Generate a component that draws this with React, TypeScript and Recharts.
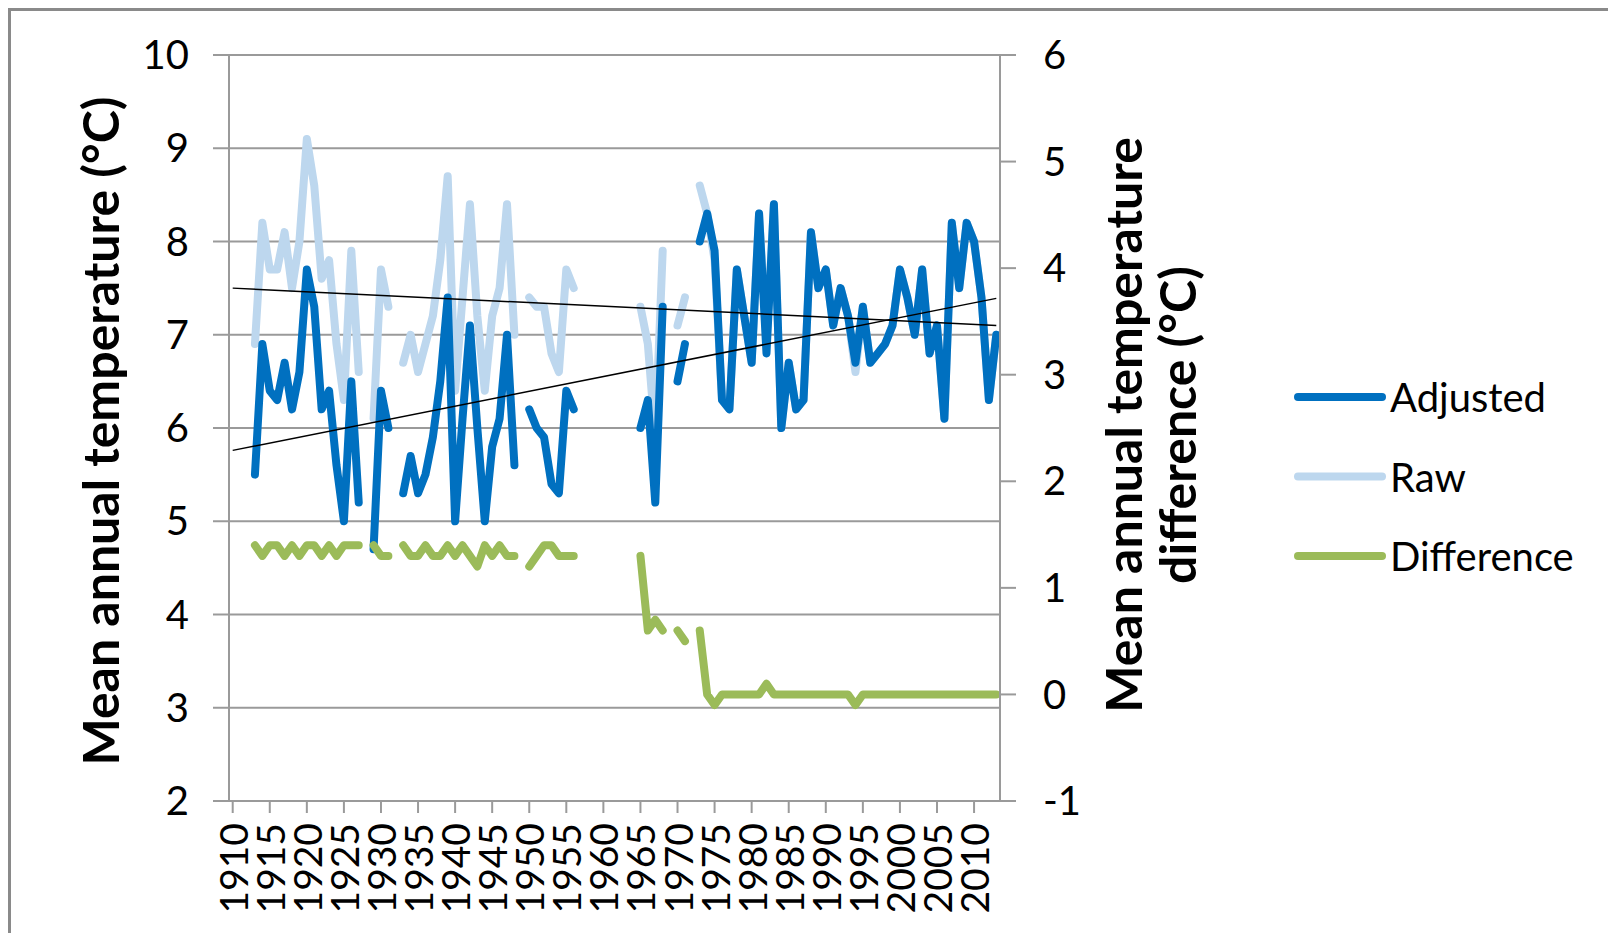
import React from 'react';
import { LineChart, Line, XAxis, YAxis, CartesianGrid, ReferenceLine } from 'recharts';

// years 1910..2013, one category per year
const years: number[] = Array.from({ length: 104 }, (_, i) => 1910 + i);

// mean annual temperature, adjusted (°C)
const adjusted: (number | null)[] = [
  null, null, null, 5.5, 6.9, 6.4, 6.3, 6.7, 6.2, 6.6,
  7.7, 7.3, 6.2, 6.4, 5.6, 5.0, 6.5, 5.2, null, 4.7,
  6.4, 6.0, null, 5.3, 5.7, 5.3, 5.5, 5.9, 6.5, 7.4,
  5.0, 6.1, 7.1, 6.0, 5.0, 5.8, 6.1, 7.0, 5.6, null,
  6.2, 6.0, 5.9, 5.4, 5.3, 6.4, 6.2, null, null, null,
  null, null, null, null, null, 6.0, 6.3, 5.2, 7.3, null,
  6.5, 6.9, null, 8.0, 8.3, 7.9, 6.3, 6.2, 7.7, 7.2,
  6.7, 8.3, 6.8, 8.4, 6.0, 6.7, 6.2, 6.3, 8.1, 7.5,
  7.7, 7.1, 7.5, 7.2, 6.7, 7.3, 6.7, 6.8, 6.9, 7.1,
  7.7, 7.4, 7.0, 7.7, 6.8, 7.1, 6.1, 8.2, 7.5, 8.2,
  8.0, 7.4, 6.3, 7.0,
];

// mean annual temperature, raw (°C)
const raw: (number | null)[] = [
  null, null, null, 6.9, 8.2, 7.7, 7.7, 8.1, 7.5, 8.0,
  9.1, 8.6, 7.6, 7.8, 6.9, 6.3, 7.9, 6.6, null, 6.1,
  7.7, 7.3, null, 6.7, 7.0, 6.6, 6.9, 7.2, 7.8, 8.7,
  6.4, 7.4, 8.4, 7.2, 6.4, 7.2, 7.5, 8.4, 7.0, null,
  7.4, 7.3, 7.3, 6.8, 6.6, 7.7, 7.5, null, null, null,
  null, null, null, null, null, 7.3, 6.9, 5.9, 7.9, null,
  7.1, 7.4, null, 8.6, 8.3, 7.8, 6.3, 6.2, 7.7, 7.2,
  6.7, 8.3, 6.9, 8.4, 6.0, 6.7, 6.2, 6.3, 8.1, 7.5,
  7.7, 7.1, 7.5, 7.2, 6.6, 7.3, 6.7, 6.8, 6.9, 7.1,
  7.7, 7.4, 7.0, 7.7, 6.8, 7.1, 6.1, 8.2, 7.5, 8.2,
  8.0, 7.4, 6.3, 7.0,
];

// raw minus adjusted (°C), right axis
const difference: (number | null)[] = [
  null, null, null, 1.4, 1.3, 1.4, 1.4, 1.3, 1.4, 1.3,
  1.4, 1.4, 1.3, 1.4, 1.3, 1.4, 1.4, 1.4, null, 1.4,
  1.3, 1.3, null, 1.4, 1.3, 1.3, 1.4, 1.3, 1.3, 1.4,
  1.3, 1.4, 1.3, 1.2, 1.4, 1.3, 1.4, 1.3, 1.3, null,
  1.2, 1.3, 1.4, 1.4, 1.3, 1.3, 1.3, null, null, null,
  null, null, null, null, null, 1.3, 0.6, 0.7, 0.6, null,
  0.6, 0.5, null, 0.6, 0.0, -0.1, 0, 0, 0, 0,
  0, 0, 0.1, 0, 0, 0, 0, 0, 0, 0,
  0, 0, 0, 0, -0.1, 0, 0, 0, 0, 0,
  0, 0, 0, 0, 0, 0, 0, 0, 0, 0,
  0, 0, 0, 0,
];

// linear trend end points (1910 and 2013)
const rawTrend = [7.5, 7.1];
const adjustedTrend = [5.76, 7.39];

const leftTicks = [2, 3, 4, 5, 6, 7, 8, 9, 10];
const rightTicks = [-1, 0, 1, 2, 3, 4, 5, 6];

const FONT = 'Lato, Carlito, Calibri, sans-serif';
const GRID = '#9a9a9a';

const data = years.map((year, i) => ({
  year,
  adjusted: adjusted[i],
  raw: raw[i],
  difference: difference[i],
}));

const legendItems = [
  { name: 'Adjusted', color: '#0070C0' },
  { name: 'Raw', color: '#BDD7EE' },
  { name: 'Difference', color: '#9BBB59' },
];

const YearTick = (props: any) => {
  const { x, y, payload } = props;
  return (
    <text
      x={x}
      y={y}
      transform={`rotate(-90 ${x} ${y})`}
      textAnchor="end"
      dominantBaseline="central"
      fontSize={39}
      fontFamily={FONT}
      fill="#000"
    >
      {payload.value}
    </text>
  );
};

export default function App() {
  return (
    <div style={{ position: 'relative', width: 1600, height: 925, fontFamily: FONT }}>
      <LineChart
        width={1600}
        height={925}
        data={data}
        margin={{ top: 47, right: 508, bottom: 12, left: 0 }}
      >
        <CartesianGrid yAxisId="left" vertical={false} stroke={GRID} strokeWidth={2} />
        <XAxis
          dataKey="year"
          type="category"
          interval={4}
          padding={{ left: 3.7, right: 3.7 }}
          height={120}
          tickSize={12}
          tickMargin={10}
          tick={<YearTick />}
          axisLine={{ stroke: GRID, strokeWidth: 2 }}
          tickLine={{ stroke: GRID, strokeWidth: 2 }}
        />
        <YAxis
          yAxisId="left"
          domain={[2, 10]}
          ticks={leftTicks}
          width={221}
          tickSize={16}
          tickMargin={24}
          tick={{ fontSize: 40, fill: '#000', fontFamily: FONT }}
          axisLine={{ stroke: GRID, strokeWidth: 2 }}
          tickLine={{ stroke: GRID, strokeWidth: 2 }}
        />
        <YAxis
          yAxisId="right"
          orientation="right"
          domain={[-1, 6]}
          ticks={rightTicks}
          width={100}
          tickSize={16}
          tickMargin={27}
          tick={{ fontSize: 40, fill: '#000', fontFamily: FONT, textAnchor: 'start' }}
          axisLine={{ stroke: GRID, strokeWidth: 2 }}
          tickLine={{ stroke: GRID, strokeWidth: 2 }}
        />
        <Line
          yAxisId="left"
          dataKey="raw"
          stroke="#BDD7EE"
          strokeWidth={8}
          strokeLinejoin="round"
          strokeLinecap="round"
          dot={false}
          activeDot={false}
          isAnimationActive={false}
        />
        <Line
          yAxisId="left"
          dataKey="adjusted"
          stroke="#0070C0"
          strokeWidth={8}
          strokeLinejoin="round"
          strokeLinecap="round"
          dot={false}
          activeDot={false}
          isAnimationActive={false}
        />
        <Line
          yAxisId="right"
          dataKey="difference"
          stroke="#9BBB59"
          strokeWidth={8}
          strokeLinejoin="round"
          strokeLinecap="round"
          dot={false}
          activeDot={false}
          isAnimationActive={false}
        />
        <ReferenceLine
          yAxisId="left"
          segment={[{ x: 1910, y: rawTrend[0] }, { x: 2013, y: rawTrend[1] }]}
          stroke="#000"
          strokeWidth={1.5}
        />
        <ReferenceLine
          yAxisId="left"
          segment={[{ x: 1910, y: adjustedTrend[0] }, { x: 2013, y: adjustedTrend[1] }]}
          stroke="#000"
          strokeWidth={1.5}
        />
      </LineChart>

      <svg
        width={1600}
        height={925}
        style={{ position: 'absolute', left: 0, top: 0, pointerEvents: 'none', overflow: 'hidden' }}
      >
        <rect x={1.5} y={1.5} width={1640} height={960} fill="none" stroke="#8a8a8a" strokeWidth={3} />
        <text
          x={92}
          y={423}
          transform="rotate(-90 92 423)"
          textAnchor="middle"
          dominantBaseline="central"
          fontSize={50}
          fontWeight="bold"
          fontFamily={FONT}
          fill="#000"
        >
          Mean annual temperature (°C)
        </text>
        <text
          transform="rotate(-90 1115 417)"
          x={1115}
          y={417}
          textAnchor="middle"
          dominantBaseline="central"
          fontSize={50}
          fontWeight="bold"
          fontFamily={FONT}
          fill="#000"
        >
          Mean annual temperature
        </text>
        <text
          transform="rotate(-90 1169 417)"
          x={1169}
          y={417}
          textAnchor="middle"
          dominantBaseline="central"
          fontSize={50}
          fontWeight="bold"
          fontFamily={FONT}
          fill="#000"
        >
          difference (°C)
        </text>
        {legendItems.map((item, i) => {
          const y = 389 + i * 79.5;
          return (
            <g key={item.name}>
              <line x1={1290} x2={1374} y1={y} y2={y} stroke={item.color} strokeWidth={8} strokeLinecap="round" />
              <text x={1382} y={y} dominantBaseline="central" fontSize={40} fontFamily={FONT} fill="#000">
                {item.name}
              </text>
            </g>
          );
        })}
      </svg>
    </div>
  );
}
